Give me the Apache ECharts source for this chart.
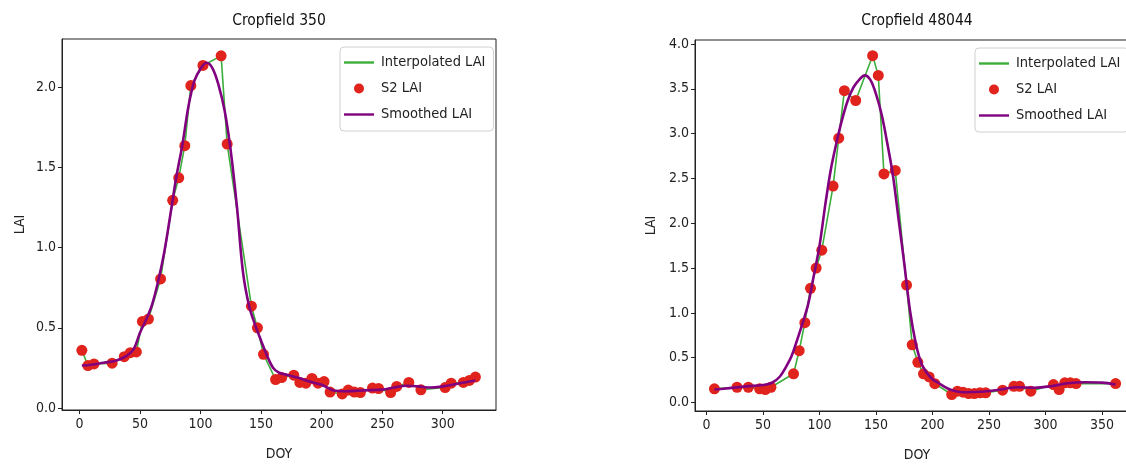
<!DOCTYPE html>
<html>
<head>
<meta charset="utf-8">
<script src="https://cdn.jsdelivr.net/npm/echarts@6/dist/echarts.min.js"></script>
<style>
  html, body { margin: 0; padding: 0; background: #fff; }
  #chart { width: 1126px; height: 464px; }
</style>
</head>
<body>
<div id="chart"></div>
<script>
// Field 350: Sentinel-2 LAI observations (day of year, LAI)
const s2Doy350 = [2,7,12,27,37,42,47,52,57,67,77,82,87,92,102,117,122,142,147,152,162,167,177,182,187,192,197,202,207,217,222,227,232,242,247,257,262,272,282,302,307,317,322,327];
const s2Lai350 = [0.36,0.265,0.275,0.28,0.32,0.345,0.35,0.54,0.555,0.805,1.295,1.435,1.635,2.01,2.135,2.195,1.645,0.635,0.50,0.335,0.178,0.19,0.205,0.16,0.155,0.185,0.155,0.165,0.10,0.088,0.112,0.10,0.097,0.125,0.122,0.097,0.135,0.16,0.114,0.128,0.155,0.16,0.172,0.193];
// Field 350: smoothed LAI curve
const smDoy350 = [2,10,20,30,39,45,50,55,60,65,70,75,80,85,90,95,100,105,110,115,120,125,130,135,140,145,150,155,160,165,170,180,190,200,210,220,230,240,250,260,270,280,290,300,310,320,327];
const smLai350 = [0.265,0.27,0.283,0.295,0.325,0.37,0.47,0.55,0.645,0.79,0.97,1.20,1.44,1.64,1.88,2.04,2.115,2.152,2.116,2.01,1.85,1.60,1.26,0.85,0.64,0.52,0.42,0.325,0.25,0.22,0.21,0.19,0.165,0.145,0.11,0.105,0.108,0.112,0.115,0.128,0.139,0.135,0.128,0.135,0.148,0.163,0.172];

// Field 48044: Sentinel-2 LAI observations
const s2Doy48044 = [7,27,37,47,52,57,77,82,87,92,97,102,112,117,122,132,147,152,157,167,177,182,187,192,197,202,217,222,227,232,237,242,247,262,272,277,287,307,312,317,322,327,362];
const s2Lai48044 = [0.152,0.17,0.17,0.152,0.144,0.17,0.32,0.578,0.89,1.274,1.50,1.70,2.415,2.95,3.48,3.37,3.87,3.65,2.55,2.59,1.31,0.644,0.448,0.32,0.285,0.21,0.089,0.126,0.115,0.10,0.10,0.108,0.108,0.137,0.181,0.181,0.126,0.20,0.144,0.219,0.219,0.211,0.211];
// Field 48044: smoothed LAI curve
const smDoy48044 = [7,20,35,50,58,65,70,75,80,85,90,95,100,105,110,115,120,125,130,135,140,145,150,155,160,165,170,175,180,185,190,195,200,205,210,215,220,227,235,248,260,275,290,305,320,335,350,362];
const smLai48044 = [0.145,0.16,0.18,0.195,0.22,0.29,0.39,0.51,0.69,0.885,1.10,1.42,1.75,2.20,2.60,2.90,3.16,3.37,3.515,3.60,3.65,3.60,3.44,3.21,2.89,2.53,2.04,1.55,1.03,0.67,0.44,0.33,0.26,0.22,0.18,0.147,0.128,0.115,0.117,0.126,0.144,0.17,0.165,0.182,0.215,0.225,0.222,0.20];

// Axis tick labels
const xTicks350 = [0,50,100,150,200,250,300];
const yTicks350 = [0,0.5,1.0,1.5,2.0];
const xTicks48044 = [0,50,100,150,200,250,300,350];
const yTicks48044 = [0,0.5,1.0,1.5,2.0,2.5,3.0,3.5,4.0];

const titles = ['Cropfield 350', 'Cropfield 48044'];
const names = ['Interpolated LAI', 'S2 LAI', 'Smoothed LAI'];

const FONT = '"DejaVu Sans Condensed", "DejaVu Sans"';
const GREEN = '#3cae3c';
const RED = '#e0231c';
const PURPLE = '#800080';
const INK = '#222';

const pairs = (xs, ys) => xs.map((x, i) => [x, ys[i]]);

function xAxis(gridIndex, min, max, ticks) {
  return {
    type: 'value', gridIndex, min, max,
    name: 'DOY', nameLocation: 'middle', nameGap: 37,
    nameTextStyle: { fontFamily: FONT, fontSize: 14, color: INK },
    axisLine: { show: true, onZero: false, lineStyle: { color: INK, width: 1 } },
    axisTick: { show: true, length: 4, inside: false, customValues: ticks, lineStyle: { color: INK } },
    axisLabel: { customValues: ticks, fontFamily: FONT, fontSize: 14, color: INK, margin: 7 },
    splitLine: { show: false }
  };
}
function yAxis(gridIndex, min, max, ticks, gap) {
  return {
    type: 'value', gridIndex, min, max,
    name: 'LAI', nameLocation: 'middle', nameGap: gap, nameRotate: 90,
    nameTextStyle: { fontFamily: FONT, fontSize: 14, color: INK },
    axisLine: { show: true, onZero: false, lineStyle: { color: INK, width: 1 } },
    axisTick: { show: true, length: 4, customValues: ticks, lineStyle: { color: INK } },
    axisLabel: { customValues: ticks, fontFamily: FONT, fontSize: 14, color: INK, margin: 6,
                 formatter: v => v.toFixed(1) },
    splitLine: { show: false }
  };
}
function legend(left, top, idx) {
  return {
    left, top, orient: 'vertical',
    seriesIndex: idx,
    data: [
      { name: names[0], icon: 'path://M0,0 H30 V2.4 H0 Z' },
      { name: names[1], icon: 'circle' },
      { name: names[2], icon: 'path://M0,0 H30 V2.4 H0 Z' }
    ],
    itemWidth: 30, itemHeight: 10, itemGap: 11,
    padding: [8, 8, 9, 4],
    borderColor: '#d0d0d0', borderWidth: 1, borderRadius: 4,
    backgroundColor: 'rgba(255,255,255,0.85)',
    textStyle: { fontFamily: FONT, fontSize: 14.5, color: INK, padding: [0, 0, 0, 2] },
    selectedMode: false
  };
}
function seriesFor(k, s2x, s2y, smx, smy) {
  return [
    { name: names[0], type: 'line', xAxisIndex: k, yAxisIndex: k, data: pairs(s2x, s2y),
      symbol: 'none', lineStyle: { color: GREEN, width: 1.6 }, itemStyle: { color: GREEN }, z: 2 },
    { name: names[1], type: 'scatter', xAxisIndex: k, yAxisIndex: k, data: pairs(s2x, s2y),
      symbol: 'circle', symbolSize: 11, itemStyle: { color: RED, opacity: 1 }, z: 3 },
    { name: names[2], type: 'line', xAxisIndex: k, yAxisIndex: k, data: pairs(smx, smy),
      symbol: 'none', smooth: 0.35, lineStyle: { color: PURPLE, width: 2.6 }, itemStyle: { color: PURPLE }, z: 4 }
  ];
}

const chart = echarts.init(document.getElementById('chart'), null, { renderer: 'canvas' });
chart.setOption({
  backgroundColor: '#ffffff',
  animation: false,
  title: [
    { text: titles[0], left: 279, top: 13, textAlign: 'center', padding: 0,
      textStyle: { fontFamily: FONT, fontSize: 15.5, fontWeight: 'normal', color: '#111' } },
    { text: titles[1], left: 917, top: 13, textAlign: 'center', padding: 0,
      textStyle: { fontFamily: FONT, fontSize: 15.5, fontWeight: 'normal', color: '#111' } }
  ],
  grid: [
    { left: 62, top: 39, width: 434, height: 371, containLabel: false, outerBoundsMode: 'none',
      show: true, borderColor: INK, borderWidth: 1, backgroundColor: 'transparent' },
    { left: 695, top: 40, width: 444, height: 371, containLabel: false, outerBoundsMode: 'none',
      show: true, borderColor: INK, borderWidth: 1, backgroundColor: 'transparent' }
  ],
  xAxis: [ xAxis(0, -14.4, 344, xTicks350), xAxis(1, -10.2, 382.7, xTicks48044) ],
  yAxis: [ yAxis(0, -0.012, 2.30, yTicks350, 35), yAxis(1, -0.095, 4.045, yTicks48044, 37) ],
  legend: [ legend(340, 47, [0,1,2]), legend(975, 48, [3,4,5]) ],
  series: [
    ...seriesFor(0, s2Doy350, s2Lai350, smDoy350, smLai350),
    ...seriesFor(1, s2Doy48044, s2Lai48044, smDoy48044, smLai48044)
  ]
});
</script>
</body>
</html>
